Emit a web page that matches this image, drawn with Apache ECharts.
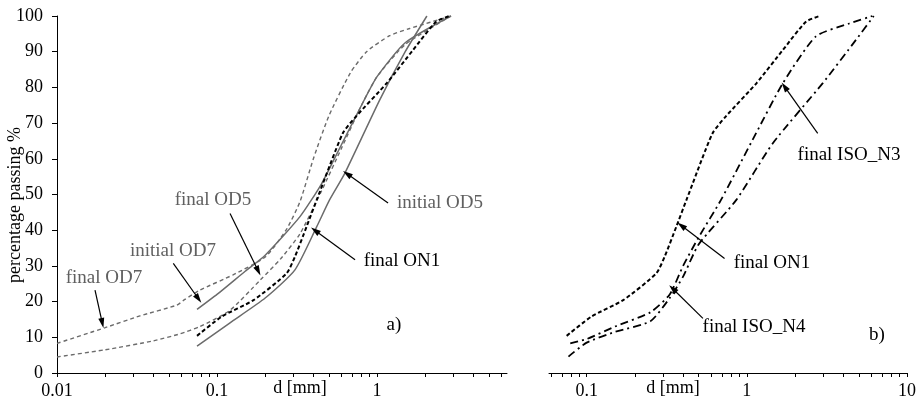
<!DOCTYPE html>
<html><head><meta charset="utf-8">
<script src="https://cdn.jsdelivr.net/npm/echarts@6/dist/echarts.min.js"></script>
<style>html,body{margin:0;padding:0;background:#fff}#c{width:919px;height:401px}</style>
</head><body><div id="c"></div>
<script>
// ---- data (d in mm, percentage passing) ----
const finalOD7   = [[0.01,8.3],[0.02,12.7],[0.033,16],[0.056,19],[0.063,20.6],[0.078,23.2],[0.126,27.5],[0.2,32.5],[0.27,40],[0.33,48],[0.4,60],[0.5,72],[0.68,84],[0.86,90],[1.2,94.5],[1.6,96.5],[2.9,100]];
const finalOD5   = [[0.01,4.5],[0.02,6.5],[0.04,9],[0.059,11],[0.078,13],[0.12,17.5],[0.186,26],[0.25,32],[0.33,39],[0.45,51],[0.6,63],[0.8,75],[1.0,83],[1.5,92],[2.9,100]];
const initialOD7 = [[0.075,17.8],[0.1,22],[0.15,28.5],[0.2,33],[0.33,43.8],[0.45,53],[0.6,64],[0.8,75],[1.0,83],[1.5,92.5],[2.9,100]];
const initialOD5 = [[0.075,7.5],[0.12,14],[0.2,21],[0.307,28.9],[0.42,41],[0.505,48.5],[0.63,56],[1.04,76.5],[1.5,90],[2.05,100]];
const finalON1   = [[0.075,10.4],[0.107,15.8],[0.169,20.4],[0.272,27.9],[0.307,32.6],[0.363,41],[0.42,48.5],[0.61,67.1],[0.74,71.9],[1.15,81.2],[1.68,90.5],[2.34,98.4],[2.84,100]];
const finalISO_N3 = [[0.079,8.3],[0.1,9.5],[0.15,13],[0.25,17],[0.33,22],[0.4,30],[0.5,38],[0.69,48.5],[1.14,67.1],[1.68,81.2],[2.7,94.3],[4.36,97.9],[6.07,100]];
const finalISO_N4 = [[0.077,4.6],[0.1,8.5],[0.15,11.5],[0.25,14.5],[0.33,21],[0.4,27],[0.5,36],[0.86,48.5],[1.45,64.3],[2.98,81.2],[4.8,93.3],[6.2,100]];

const yTicks = [0,10,20,30,40,50,60,70,80,90,100];
const xTicksA = [0.01,0.02,0.03,0.04,0.05,0.06,0.07,0.08,0.09,0.1,0.2,0.3,0.4,0.5,0.6,0.7,0.8,0.9,1,2,3,4,5,6];
const xLabelsA = [0.01,0.1,1];
const xTicksB = [0.06,0.07,0.08,0.09,0.1,0.2,0.3,0.4,0.5,0.6,0.7,0.8,0.9,1,2,3,4,5,6,7,8,9,10];
const xLabelsB = [0.1,1,10];

// annotations: [text, arrow start, arrow tip] in data coords
const annA = [
  ['final OD7',  [0.01728,23.2],[0.0192,14.0]],
  ['initial OD7',[0.0533,30.7],[0.0765,20.8]],
  ['final OD5',  [0.1206,44.7],[0.181,28.6]],
  ['initial OD5',[1.172,47.6],[0.65,55.8]],
  ['final ON1',  [0.729,31.7],[0.41,39.9]]
];
const annB = [
  ['final ISO_N3',[2.77,67.1],[1.72,80.2]],
  ['final ON1',   [0.726,32.1],[0.39,41.3]],
  ['final ISO_N4',[0.532,15.3],[0.345,23.6]]
];

const FONT = '"Liberation Serif","DejaVu Serif",serif';
const GRAY = '#6b6b6b';
const TGRAY = '#606060';
const ARROW = 'path://M5,0L8,10L2,10Z M0,0 M10,10';

function fmt(v){ return String(+v.toPrecision(3)); }
function xAxisCfg(idx, min, max, ticks, labels){
  return {
    type:'log', logBase:10, gridIndex:idx, min:min, max:max,
    axisLine:{show:true,onZero:false,lineStyle:{color:'#000',width:1}},
    axisTick:{show:true,inside:false,length:4,customValues:ticks,lineStyle:{color:'#000'}},
    axisLabel:{show:true,customValues:labels,formatter:fmt,color:'#000',fontFamily:FONT,fontSize:18,margin:9},
    splitLine:{show:false}, minorTick:{show:false}, minorSplitLine:{show:false}
  };
}
function arrowSeries(xi, ann){
  return {
    type:'line', xAxisIndex:xi, yAxisIndex:xi, data:[], silent:true, color:'#000',
    markLine:{
      silent:true, symbol:['none',ARROW], symbolSize:10, animation:false,
      label:{show:false},
      lineStyle:{color:'#000',width:1.2,type:'solid'},
      itemStyle:{color:'#000'},
      emphasis:{disabled:true},
      data: ann.map(a=>[{coord:a[1]},{coord:a[2]}])
    }
  };
}
function lineSeries(name, data, xi, color, width, type){
  return {name, type:'line', xAxisIndex:xi, yAxisIndex:xi, data, showSymbol:false, symbol:'none',
    smooth:0.2, lineStyle:{color, width, type}, animation:false, z:3};
}

const chart = echarts.init(document.getElementById('c'), null, {renderer:'canvas'});
chart.setOption({
  backgroundColor:'#fff',
  animation:false,
  grid:[
    {left:57, top:16, width:450, height:357},
    {left:549, top:16, width:359, height:357}
  ],
  xAxis:[
    xAxisCfg(0, 0.01, 6.49, xTicksA, xLabelsA),
    xAxisCfg(1, 0.0582, 10, xTicksB, xLabelsB)
  ],
  yAxis:[
    {type:'value', gridIndex:0, min:0, max:100, interval:10,
     axisLine:{show:true,lineStyle:{color:'#000',width:1}},
     axisTick:{show:true,inside:false,length:5,lineStyle:{color:'#000'}},
     axisLabel:{color:'#000',fontFamily:FONT,fontSize:18,margin:14,customValues:yTicks},
     splitLine:{show:false}},
    {type:'value', gridIndex:1, min:0, max:100, interval:10, show:false, splitLine:{show:false}}
  ],
  series:[
    lineSeries('final OD7', finalOD7, 0, GRAY, 1.4, [4,3]),
    lineSeries('final OD5', finalOD5, 0, GRAY, 1.4, [4,3]),
    lineSeries('initial OD7', initialOD7, 0, GRAY, 1.5, 'solid'),
    lineSeries('initial OD5', initialOD5, 0, GRAY, 1.5, 'solid'),
    lineSeries('final ON1', finalON1, 0, '#000', 2, [4,2.5]),
    lineSeries('final ON1 b', finalON1, 1, '#000', 2, [4,2.5]),
    lineSeries('final ISO_N3', finalISO_N3, 1, '#000', 1.8, [8,4,2,4]),
    lineSeries('final ISO_N4', finalISO_N4, 1, '#000', 1.8, [8,4,2,4]),
    arrowSeries(0, annA),
    arrowSeries(1, annB)
  ],
  graphic:[
    {type:'text', x:15, y:205, rotation:Math.PI/2, style:{text:'percentage passing %', font:'18px '+FONT, fill:'#000', align:'center', verticalAlign:'middle'}},
    {type:'text', x:300, y:388, style:{text:'d [mm]', font:'18px '+FONT, fill:'#000', align:'center', verticalAlign:'middle'}},
    {type:'text', x:673, y:388, style:{text:'d [mm]', font:'18px '+FONT, fill:'#000', align:'center', verticalAlign:'middle'}},
    {type:'text', x:104, y:278, style:{text:'final OD7', font:'19px '+FONT, fill:TGRAY, align:'center', verticalAlign:'middle'}},
    {type:'text', x:173, y:251, style:{text:'initial OD7', font:'19px '+FONT, fill:TGRAY, align:'center', verticalAlign:'middle'}},
    {type:'text', x:213, y:200, style:{text:'final OD5', font:'19px '+FONT, fill:TGRAY, align:'center', verticalAlign:'middle'}},
    {type:'text', x:440, y:203, style:{text:'initial OD5', font:'19px '+FONT, fill:TGRAY, align:'center', verticalAlign:'middle'}},
    {type:'text', x:402, y:261, style:{text:'final ON1', font:'19px '+FONT, fill:'#000', align:'center', verticalAlign:'middle'}},
    {type:'text', x:394, y:325, style:{text:'a)', font:'19px '+FONT, fill:'#000', align:'center', verticalAlign:'middle'}},
    {type:'text', x:849, y:155, style:{text:'final ISO_N3', font:'19px '+FONT, fill:'#000', align:'center', verticalAlign:'middle'}},
    {type:'text', x:772, y:263, style:{text:'final ON1', font:'19px '+FONT, fill:'#000', align:'center', verticalAlign:'middle'}},
    {type:'text', x:754, y:327, style:{text:'final ISO_N4', font:'19px '+FONT, fill:'#000', align:'center', verticalAlign:'middle'}},
    {type:'text', x:877, y:335, style:{text:'b)', font:'19px '+FONT, fill:'#000', align:'center', verticalAlign:'middle'}}
  ]
});
</script></body></html>
